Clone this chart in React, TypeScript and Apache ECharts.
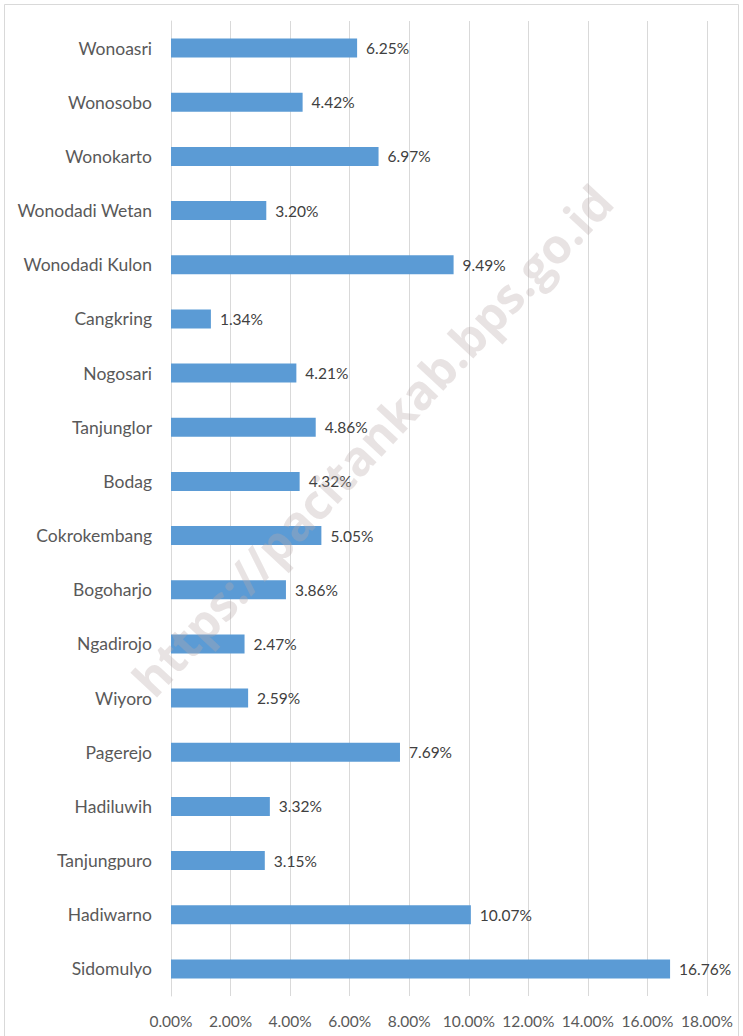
import React, { useEffect, useRef } from "react";
import * as echarts from "echarts";

const categories = [
  "Wonoasri", "Wonosobo", "Wonokarto", "Wonodadi Wetan", "Wonodadi Kulon",
  "Cangkring", "Nogosari", "Tanjunglor", "Bodag", "Cokrokembang",
  "Bogoharjo", "Ngadirojo", "Wiyoro", "Pagerejo", "Hadiluwih",
  "Tanjungpuro", "Hadiwarno", "Sidomulyo",
];
const values = [
  6.25, 4.42, 6.97, 3.2, 9.49,
  1.34, 4.21, 4.86, 4.32, 5.05,
  3.86, 2.47, 2.59, 7.69, 3.32,
  3.15, 10.07, 16.76,
];
const axisMin = 0;
const axisMax = 18;
const axisInterval = 2;
const watermark = "https://pacitankab.bps.go.id";

const FONT = "Lato, 'Liberation Sans', sans-serif";

export default function App() {
  const ref = useRef<HTMLDivElement>(null);
  useEffect(() => {
    document.body.style.margin = "0";
    const chart = echarts.init(ref.current!, null, { renderer: "svg" });
    chart.setOption({
      animation: false,
      backgroundColor: "#ffffff",
      grid: { left: 171, right: 36, top: 21, bottom: 40, containLabel: false },
      xAxis: {
        type: "value",
        min: axisMin,
        max: axisMax,
        interval: axisInterval,
        axisLine: { show: false },
        axisTick: { show: false },
        splitLine: { show: true, lineStyle: { color: "#d9d9d9", width: 1 } },
        axisLabel: {
          margin: 17,
          color: "#595959",
          fontFamily: FONT,
          fontSize: 15.5,
          formatter: (v: number) => v.toFixed(2) + "%",
        },
      },
      yAxis: {
        type: "category",
        data: categories,
        inverse: true,
        axisLine: { show: true, lineStyle: { color: "#d9d9d9" } },
        axisTick: { show: false },
        axisLabel: {
          margin: 19,
          color: "#595959",
          fontFamily: FONT,
          fontSize: 17.5,
        },
      },
      series: [
        {
          type: "bar",
          data: values,
          barWidth: 19,
          itemStyle: { color: "#5b9bd5" },
          z: 2,
          label: {
            show: true,
            position: "right",
            distance: 9,
            color: "#404040",
            fontFamily: FONT,
            fontSize: 15.5,
            formatter: (p: any) => p.value.toFixed(2) + "%",
          },
        },
      ],
      graphic: [
        {
          type: "rect",
          shape: { x: 4.5, y: 4.5, width: 734, height: 1040 },
          style: { fill: "none", stroke: "#d9d9d9", lineWidth: 1 },
          silent: true,
          z: 0,
        },
        {
          type: "text",
          x: 372,
          y: 440,
          rotation: (47 * Math.PI) / 180,
          z: 100,
          silent: true,
          style: {
            text: watermark,
            fill: "rgba(185,170,170,0.33)",
            font: "bold 48px 'Open Sans', 'Liberation Sans', sans-serif",
            align: "center",
            verticalAlign: "middle",
          },
        },
      ],
    });
    return () => chart.dispose();
  }, []);
  return <div ref={ref} style={{ width: 743, height: 1036 }} />;
}
